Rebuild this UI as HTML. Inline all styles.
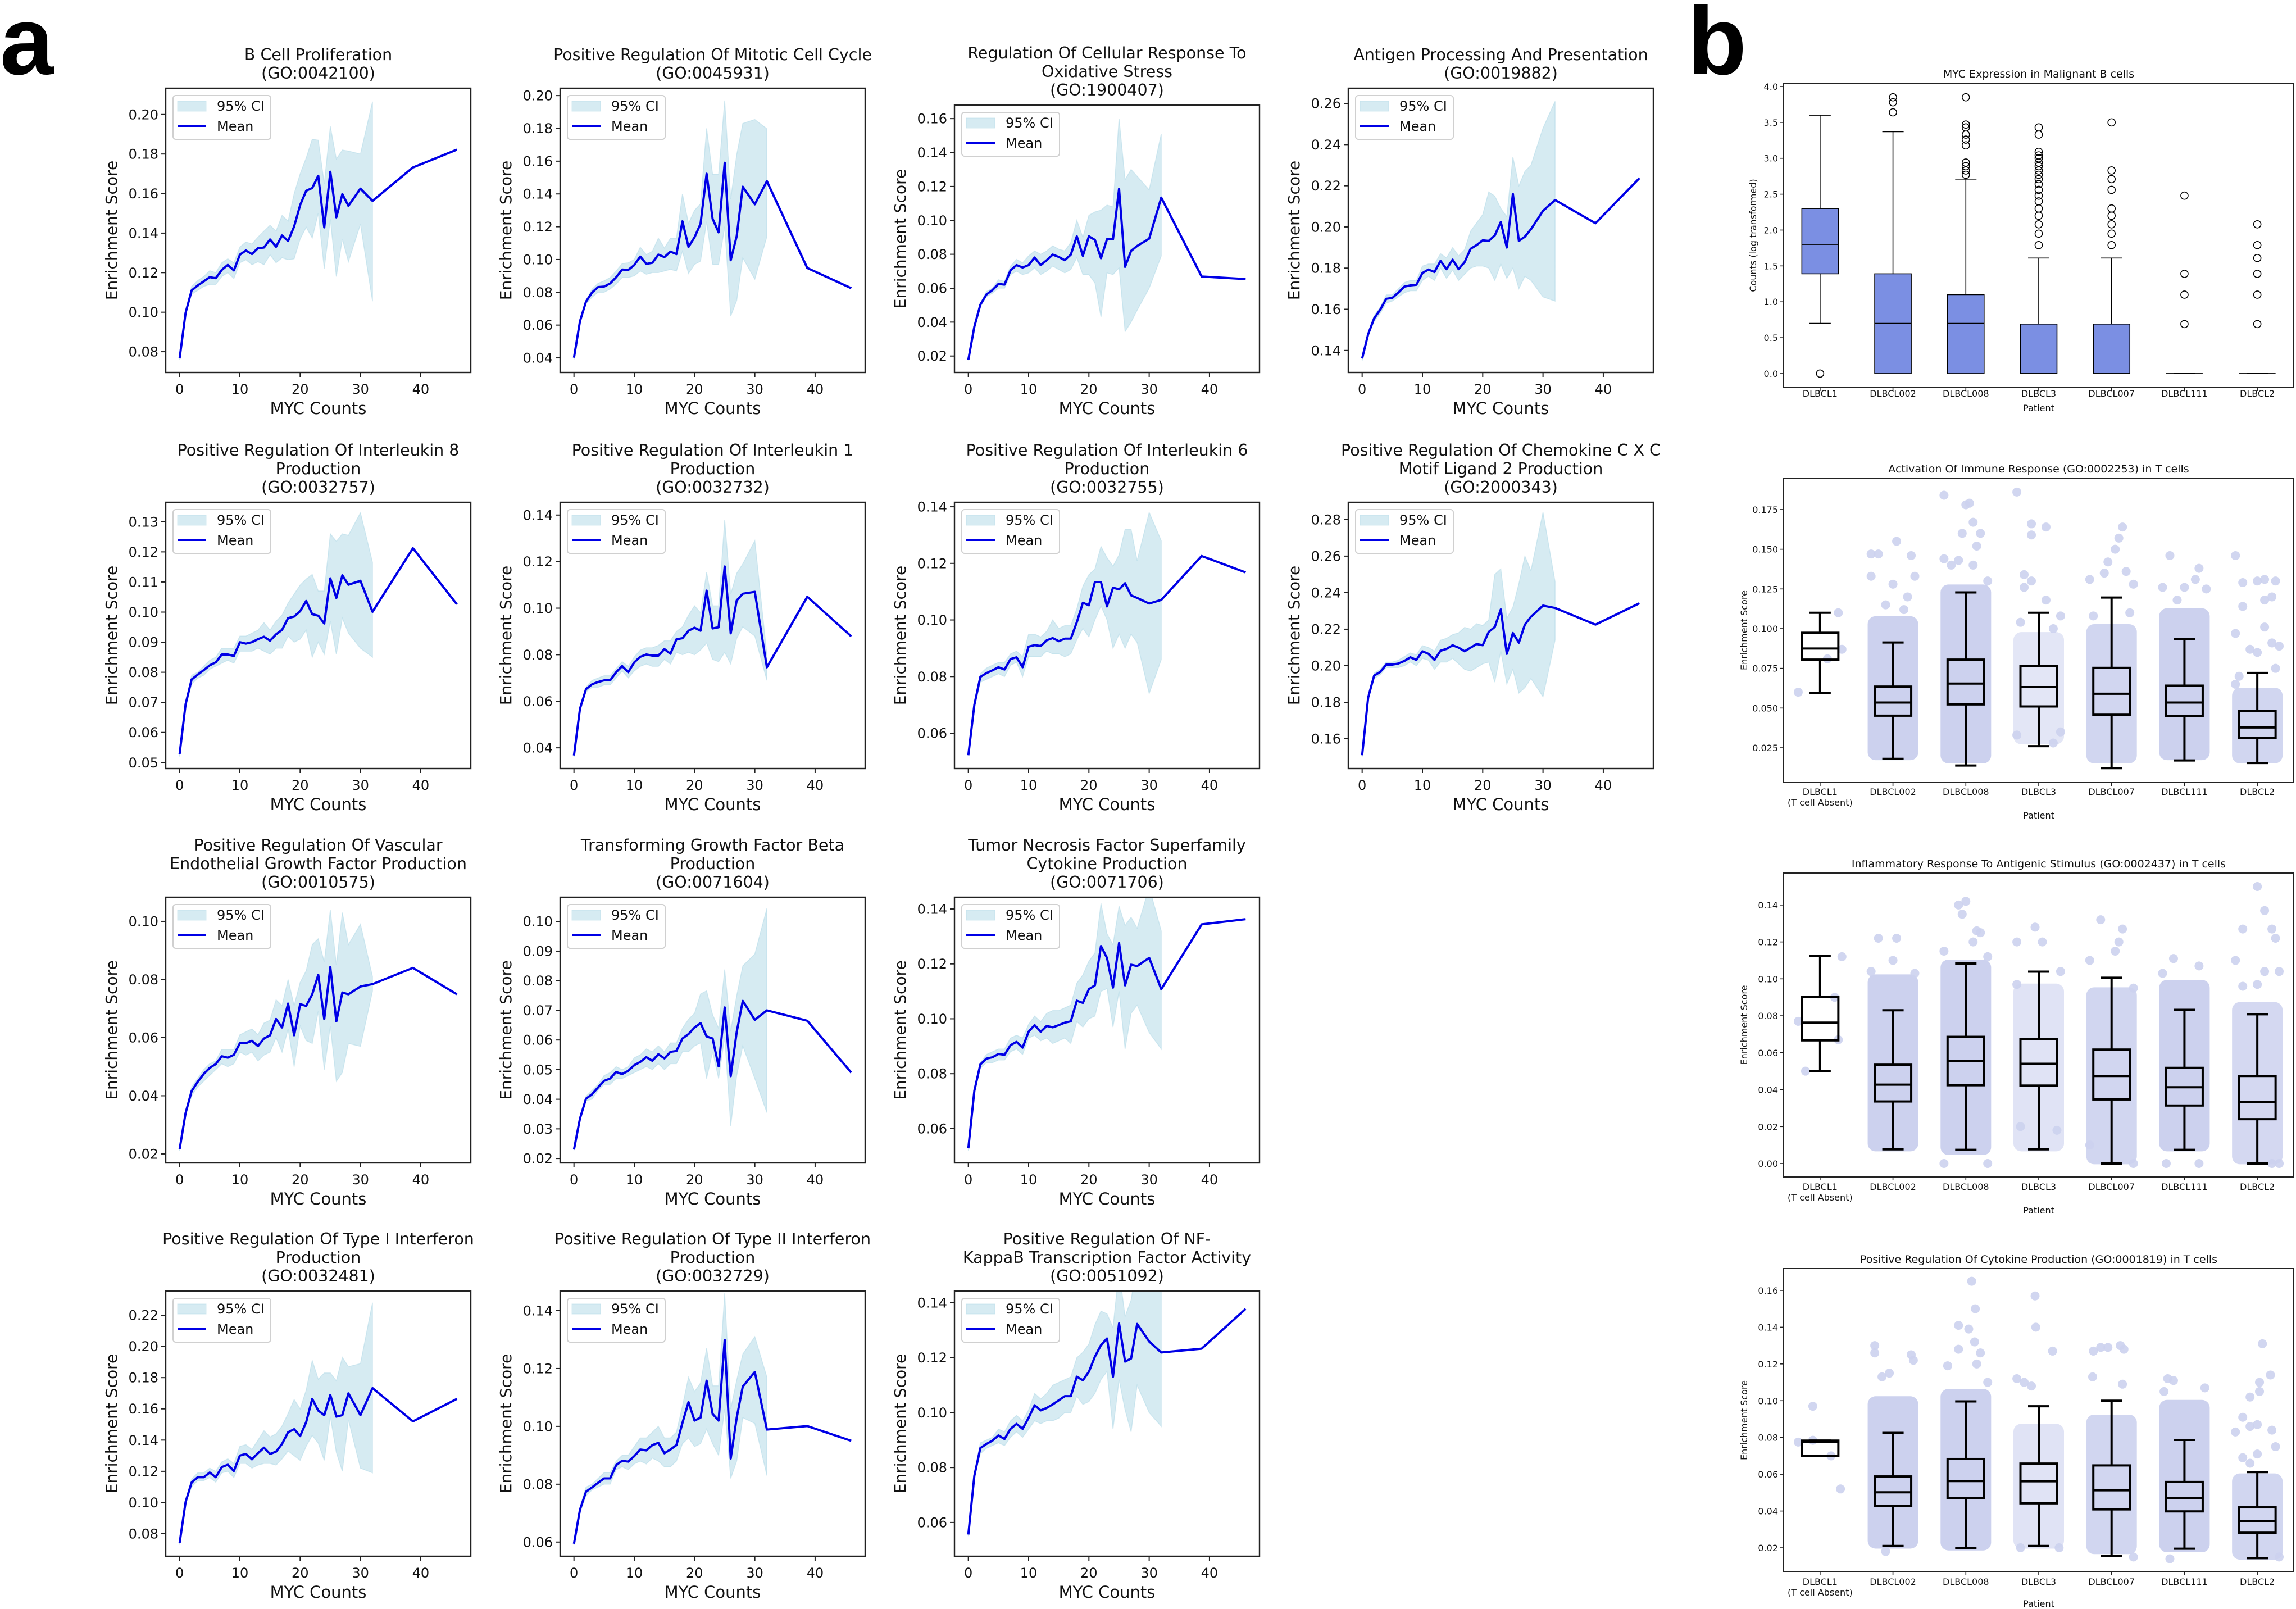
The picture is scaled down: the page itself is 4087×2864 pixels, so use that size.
<!DOCTYPE html>
<html><head><meta charset="utf-8"><title>MYC enrichment figure</title>
<style>
html,body{margin:0;padding:0;background:#fff;}
svg{display:block;font-family:"DejaVu Sans","Liberation Sans",sans-serif;}
</style></head>
<body>
<svg id="fig" xmlns="http://www.w3.org/2000/svg" width="4087" height="2864" viewBox="0 0 4087 2864">
<rect x="0" y="0" width="4087" height="2864" fill="#fff"/>
<text x="0" y="132" font-family="Liberation Sans, sans-serif" font-weight="bold" font-size="172">a</text>
<text x="3004" y="132" font-family="Liberation Sans, sans-serif" font-weight="bold" font-size="172">b</text>
</svg>
<script>
// ---------- line plot data ----------
const xCounts = [0,1,2,3,4,5,6,7,8,9,10,11,12,13,14,15,16,17,18,19,20,21,22,23,24,25,26,27,28,30,32,38.7,46];
const xTickVals = [0,10,20,30,40];

const meanP1=[.0766,.0997,.111,.1135,.1156,.1177,.1172,.1214,.1239,.1211,.1291,.1312,.1294,.1324,.1327,.1368,.1331,.1388,.1360,.1434,.1542,.1614,.1628,.169,.1429,.171,.148,.1597,.1538,.1625,.1563,.1732,.1822];
const hiP1=[.077,.1,.113,.116,.118,.121,.120,.125,.127,.125,.133,.1355,.1345,.138,.141,.144,.141,.149,.146,.160,.170,.178,.1875,.187,.165,.194,.1775,.182,.1815,.180,.2065];
const loP1=[.076,.099,.109,.111,.113,.114,.114,.118,.120,.117,.125,.1265,.124,.1255,.124,.129,.125,.1275,.1265,.127,.137,.143,.1375,.150,.122,.147,.118,.137,.1255,.1445,.1055];

const meanP2=[.0401,.0624,.0743,.0799,.0832,.0835,.0854,.0892,.0939,.0936,.0966,.1018,.0973,.098,.103,.1015,.1048,.1033,.1233,.1077,.1136,.1218,.1523,.1248,.1166,.1590,.0996,.1143,.1444,.1337,.1478,.0948,.0825];
const hiP2=[.041,.063,.075,.082,.0855,.087,.089,.093,.0975,.098,.100,.1075,.103,.105,.113,.107,.113,.113,.140,.122,.130,.134,.180,.152,.152,.197,.137,.164,.183,.1854,.1798];
const loP2=[.039,.061,.073,.077,.080,.080,.082,.085,.089,.089,.090,.093,.091,.092,.092,.093,.094,.093,.105,.0914,.097,.099,.123,.097,.097,.120,.0654,.075,.101,.088,.114];

const meanP3=[.0178,.0373,.0503,.0563,.0589,.0625,.0621,.0705,.0736,.0722,.0736,.0781,.0736,.0765,.0798,.0784,.0765,.0798,.0906,.0791,.0906,.0885,.0777,.0889,.0889,.1186,.0726,.0820,.0849,.0892,.1134,.0669,.0654];
const hiP3=[.018,.038,.051,.058,.060,.065,.064,.073,.077,.075,.079,.082,.080,.082,.085,.083,.082,.087,.100,.090,.103,.105,.106,.109,.108,.160,.124,.130,.126,.118,.151];
const loP3=[.0175,.036,.049,.055,.057,.060,.060,.068,.070,.068,.069,.072,.068,.070,.073,.071,.069,.071,.078,.068,.068,.063,.043,.069,.068,.072,.0344,.040,.047,.060,.079];

const meanP4=[.1361,.1479,.1556,.1598,.1651,.1655,.1681,.1710,.1716,.1719,.1776,.1793,.1781,.1835,.1795,.1841,.1795,.1829,.1894,.1912,.1935,.1932,.1959,.2024,.1900,.2160,.1932,.1953,.1989,.2078,.2131,.2018,.2237];
const hiP4=[.137,.149,.157,.161,.167,.167,.170,.173,.174,.174,.181,.182,.182,.187,.185,.190,.186,.189,.198,.202,.206,.217,.215,.209,.205,.234,.220,.227,.230,.248,.261];
const loP4=[.135,.147,.154,.158,.163,.164,.166,.168,.169,.169,.174,.176,.174,.180,.175,.179,.174,.177,.180,.181,.181,.180,.174,.182,.175,.180,.170,.176,.174,.166,.164];

const meanP5=[.0528,.0694,.0776,.0792,.0807,.0823,.0833,.0859,.0859,.0854,.0900,.0895,.0900,.0910,.0918,.0905,.0926,.0941,.0980,.0985,.1003,.1037,.0993,.0988,.0962,.1112,.1047,.1122,.1091,.1104,.1001,.1212,.1026];
const hiP5=[.053,.070,.079,.080,.082,.084,.085,.088,.088,.088,.092,.092,.093,.094,.0965,.094,.097,.099,.103,.106,.109,.111,.1125,.107,.107,.126,.1235,.126,.1255,.133,.1165];
const loP5=[.052,.068,.076,.078,.079,.081,.082,.083,.084,.083,.087,.087,.087,.088,.087,.086,.088,.088,.092,.090,.091,.094,.085,.090,.086,.097,.086,.098,.093,.088,.085];

const meanP6=[.0367,.0568,.0652,.0673,.0683,.0690,.0690,.0725,.0751,.0725,.0767,.0791,.0801,.0796,.0796,.0824,.0804,.0866,.0871,.0903,.0916,.0903,.1075,.0913,.0918,.1179,.0892,.1033,.1062,.1070,.0746,.1049,.0879];
const hiP6=[.037,.057,.066,.069,.070,.071,.071,.074,.077,.075,.079,.082,.083,.083,.084,.086,.086,.090,.092,.097,.101,.098,.1155,.101,.101,.138,.106,.115,.119,.129,.080];
const loP6=[.036,.056,.064,.066,.066,.067,.067,.070,.073,.070,.073,.075,.076,.075,.075,.078,.076,.081,.080,.081,.080,.082,.085,.078,.077,.081,.076,.087,.092,.088,.069];

const meanP7=[.0522,.0700,.0799,.0812,.0822,.0833,.0825,.0862,.0868,.0833,.0906,.0911,.0908,.0928,.0936,.0925,.0934,.0934,.0992,.1061,.1052,.1134,.1134,.1048,.1114,.1108,.1130,.1087,.1078,.1058,.1071,.1226,.1168];
const hiP7=[.053,.071,.081,.083,.084,.085,.085,.088,.089,.087,.095,.095,.094,.096,.100,.097,.098,.098,.104,.112,.116,.118,.126,.122,.119,.123,.132,.132,.121,.138,.128];
const loP7=[.052,.069,.078,.079,.080,.081,.080,.084,.085,.080,.087,.087,.087,.089,.088,.088,.087,.088,.093,.097,.094,.100,.105,.100,.090,.095,.090,.095,.092,.074,.086];

const meanP8=[.1510,.1826,.1946,.1966,.2006,.2006,.2012,.2026,.2046,.2032,.2079,.2065,.2032,.2082,.2092,.2112,.2099,.2079,.2099,.2119,.2112,.2185,.2212,.2308,.2065,.2179,.2126,.2225,.2268,.2329,.2316,.2225,.2342];
const hiP8=[.152,.184,.196,.198,.202,.202,.203,.205,.207,.206,.211,.210,.208,.214,.215,.217,.218,.221,.220,.223,.222,.225,.250,.253,.226,.232,.245,.260,.252,.284,.246];
const loP8=[.150,.181,.193,.195,.199,.199,.199,.200,.202,.200,.204,.203,.198,.202,.202,.204,.201,.198,.197,.199,.201,.202,.191,.208,.190,.198,.185,.188,.193,.183,.214];

const meanP9=[.0216,.0341,.0416,.0448,.0475,.0496,.0509,.0536,.0531,.0541,.0581,.0581,.0589,.0571,.0597,.0608,.0664,.0635,.0717,.0608,.0715,.0709,.0749,.0816,.0664,.0843,.0656,.0755,.0749,.0776,.0784,.0840,.0749];
const hiP9=[.022,.035,.043,.046,.049,.051,.052,.056,.056,.056,.061,.062,.063,.061,.065,.066,.073,.071,.080,.071,.079,.083,.092,.094,.086,.104,.085,.103,.092,.099,.081];
const loP9=[.021,.033,.040,.043,.045,.047,.049,.051,.050,.051,.055,.054,.055,.052,.054,.055,.060,.055,.063,.050,.064,.059,.058,.069,.049,.064,.045,.048,.058,.057,.076];

const meanP10=[.0230,.0335,.0402,.0417,.0440,.0462,.0470,.0492,.0485,.0496,.0515,.0526,.0542,.0530,.0552,.0538,.0560,.0563,.0605,.0620,.0642,.0657,.0612,.0605,.0511,.0710,.0478,.0627,.0732,.0668,.0700,.0665,.0490];
const hiP10=[.0232,.034,.041,.043,.045,.048,.049,.051,.050,.051,.054,.055,.057,.056,.058,.056,.059,.059,.064,.067,.069,.0755,.0766,.0685,.064,.0838,.063,.075,.085,.089,.1044];
const loP10=[.0228,.033,.0395,.040,.043,.045,.045,.047,.047,.048,.049,.050,.051,.050,.052,.050,.052,.052,.056,.056,.058,.059,.047,.056,.047,.061,.031,.048,.058,.047,.0355];

const meanP11=[.0528,.0738,.0834,.0855,.0860,.0872,.0869,.0904,.0916,.0895,.0953,.0977,.0953,.0974,.0969,.0977,.0986,.0991,.1066,.1058,.1108,.1122,.1265,.1222,.1114,.1276,.1122,.1197,.1192,.1222,.1108,.1344,.1363];
const hiP11=[.053,.074,.084,.087,.088,.089,.089,.093,.094,.093,.098,.101,.099,.102,.103,.103,.104,.105,.113,.116,.121,.124,.142,.131,.127,.141,.134,.137,.133,.148,.132];
const loP11=[.052,.073,.082,.084,.084,.085,.085,.088,.089,.087,.093,.094,.092,.093,.091,.092,.093,.091,.099,.097,.100,.101,.110,.111,.097,.110,.089,.102,.105,.095,.089];

const meanP12=[.0740,.1004,.1128,.1162,.1162,.1192,.1162,.1227,.1242,.1202,.1301,.1311,.1277,.1316,.1351,.1311,.1326,.1376,.1450,.1470,.1426,.1515,.1664,.1589,.1560,.1689,.1550,.1560,.1699,.1560,.1733,.1520,.1664];
const hiP12=[.075,.102,.115,.119,.119,.122,.120,.126,.128,.125,.136,.137,.134,.140,.146,.142,.144,.149,.157,.166,.160,.172,.191,.179,.183,.183,.178,.193,.187,.189,.228];
const loP12=[.073,.099,.110,.114,.114,.116,.113,.119,.120,.116,.125,.125,.122,.124,.125,.125,.124,.128,.133,.130,.127,.136,.143,.138,.127,.155,.132,.120,.153,.122,.119];

const meanP13=[.0594,.0712,.0774,.0789,.0805,.0820,.0820,.0866,.0881,.0878,.0897,.0920,.0917,.0935,.0943,.0907,.0920,.0935,.1012,.1084,.1020,.1030,.1158,.1043,.1020,.1299,.0889,.1030,.1138,.1188,.0989,.1001,.0950];
const hiP13=[.060,.072,.079,.080,.082,.084,.084,.088,.090,.090,.093,.096,.096,.098,.100,.096,.096,.098,.107,.117,.112,.115,.127,.114,.114,.146,.106,.116,.125,.131,.117];
const loP13=[.059,.070,.076,.078,.079,.080,.080,.085,.086,.085,.087,.088,.087,.089,.088,.086,.086,.088,.094,.096,.093,.094,.099,.094,.090,.106,.082,.088,.103,.101,.083];

const meanP14=[.0556,.0770,.0871,.0886,.0898,.0917,.0904,.0941,.0959,.0941,.0981,.1027,.1008,.1017,.1030,.1045,.1060,.1060,.1131,.1118,.1149,.1204,.1246,.1270,.1131,.1325,.1186,.1197,.1323,.1259,.1219,.1233,.1378];
const hiP14=[.056,.078,.089,.090,.091,.094,.093,.097,.099,.097,.101,.107,.105,.107,.110,.111,.112,.113,.120,.122,.125,.132,.137,.136,.131,.152,.135,.141,.155,.152,.149];
const loP14=[.055,.076,.085,.087,.088,.089,.088,.091,.093,.091,.094,.097,.096,.097,.097,.098,.100,.100,.106,.103,.104,.107,.112,.115,.094,.112,.101,.093,.110,.100,.095];

const ticksP1=[.08,.10,.12,.14,.16,.18,.20];
const ticksP2=[.04,.06,.08,.10,.12,.14,.16,.18,.20];
const ticksP3=[.02,.04,.06,.08,.10,.12,.14,.16];
const ticksP4=[.14,.16,.18,.20,.22,.24,.26];
const ticksP5=[.05,.06,.07,.08,.09,.10,.11,.12,.13];
const ticksP6=[.04,.06,.08,.10,.12,.14];
const ticksP7=[.06,.08,.10,.12,.14];
const ticksP8=[.16,.18,.20,.22,.24,.26,.28];
const ticksP9=[.02,.04,.06,.08,.10];
const ticksP10=[.02,.03,.04,.05,.06,.07,.08,.09,.10];
const ticksP11=[.06,.08,.10,.12,.14];
const ticksP12=[.08,.10,.12,.14,.16,.18,.20,.22];
const ticksP13=[.06,.08,.10,.12,.14];
const ticksP14=[.06,.08,.10,.12,.14];

const linePlots=[
 {id:'b-cell-proliferation',col:0,row:0,ymin:.0695,ymax:.2133,t:ticksP1,m:meanP1,hi:hiP1,lo:loP1,title:["B Cell Proliferation","(GO:0042100)"]},
 {id:'mitotic-cell-cycle',col:1,row:0,ymin:.0311,ymax:.2045,t:ticksP2,m:meanP2,hi:hiP2,lo:loP2,title:["Positive Regulation Of Mitotic Cell Cycle","(GO:0045931)"]},
 {id:'oxidative-stress',col:2,row:0,ymin:.0103,ymax:.168,t:ticksP3,m:meanP3,hi:hiP3,lo:loP3,title:["Regulation Of Cellular Response To","Oxidative Stress","(GO:1900407)"],top:187},
 {id:'antigen-processing',col:3,row:0,ymin:.1293,ymax:.2674,t:ticksP4,m:meanP4,hi:hiP4,lo:loP4,title:["Antigen Processing And Presentation","(GO:0019882)"]},
 {id:'interleukin-8',col:0,row:1,ymin:.048,ymax:.1365,t:ticksP5,m:meanP5,hi:hiP5,lo:loP5,title:["Positive Regulation Of Interleukin 8","Production","(GO:0032757)"]},
 {id:'interleukin-1',col:1,row:1,ymin:.0311,ymax:.1455,t:ticksP6,m:meanP6,hi:hiP6,lo:loP6,title:["Positive Regulation Of Interleukin 1","Production","(GO:0032732)"]},
 {id:'interleukin-6',col:2,row:1,ymin:.0475,ymax:.1416,t:ticksP7,m:meanP7,hi:hiP7,lo:loP7,title:["Positive Regulation Of Interleukin 6","Production","(GO:0032755)"]},
 {id:'cxcl2',col:3,row:1,ymin:.1437,ymax:.2895,t:ticksP8,m:meanP8,hi:hiP8,lo:loP8,title:["Positive Regulation Of Chemokine C X C","Motif Ligand 2 Production","(GO:2000343)"]},
 {id:'vegf',col:0,row:2,ymin:.0169,ymax:.1083,t:ticksP9,m:meanP9,hi:hiP9,lo:loP9,title:["Positive Regulation Of Vascular","Endothelial Growth Factor Production","(GO:0010575)"]},
 {id:'tgf-beta',col:1,row:2,ymin:.0185,ymax:.1082,t:ticksP10,m:meanP10,hi:hiP10,lo:loP10,title:["Transforming Growth Factor Beta","Production","(GO:0071604)"]},
 {id:'tnf-superfamily',col:2,row:2,ymin:.0475,ymax:.1443,t:ticksP11,m:meanP11,hi:hiP11,lo:loP11,title:["Tumor Necrosis Factor Superfamily","Cytokine Production","(GO:0071706)"]},
 {id:'type-i-interferon',col:0,row:3,ymin:.0656,ymax:.2355,t:ticksP12,m:meanP12,hi:hiP12,lo:loP12,title:["Positive Regulation Of Type I Interferon","Production","(GO:0032481)"]},
 {id:'type-ii-interferon',col:1,row:3,ymin:.0551,ymax:.1468,t:ticksP13,m:meanP13,hi:hiP13,lo:loP13,title:["Positive Regulation Of Type II Interferon","Production","(GO:0032729)"]},
 {id:'nf-kappab',col:2,row:3,ymin:.0477,ymax:.1443,t:ticksP14,m:meanP14,hi:hiP14,lo:loP14,title:["Positive Regulation Of NF-","KappaB Transcription Factor Activity","(GO:0051092)"]}
];

// ---------- box plot data ----------
const patients=["DLBCL1","DLBCL002","DLBCL008","DLBCL3","DLBCL007","DLBCL111","DLBCL2"];
const mycQ1=[1.39,0,0,0,0,0,0];
const mycMed=[1.8,0.7,0.7,0,0,0,0];
const mycQ3=[2.3,1.39,1.1,0.69,0.69,0,0];
const mycLo=[0.7,0,0,0,0,0,0];
const mycHi=[3.6,3.37,2.71,1.61,1.61,0,0];
const mycOutliers=[[0,0],[1,3.64],[1,3.78],[1,3.85],[2,2.77],[2,2.83],[2,2.89],[2,2.94],[2,3.18],[2,3.26],[2,3.33],[2,3.43],[2,3.47],[2,3.85],
 [3,1.79],[3,1.95],[3,2.08],[3,2.2],[3,2.3],[3,2.4],[3,2.48],[3,2.56],[3,2.64],[3,2.71],[3,2.77],[3,2.83],[3,2.89],[3,2.94],[3,3.0],[3,3.04],[3,3.09],[3,3.33],[3,3.43],
 [4,1.79],[4,1.95],[4,2.08],[4,2.2],[4,2.3],[4,2.56],[4,2.71],[4,2.83],[4,3.5],
 [5,0.69],[5,1.1],[5,1.39],[5,2.48],[6,0.69],[6,1.1],[6,1.39],[6,1.61],[6,1.79],[6,2.08]];
const mycTicks=[0,0.5,1,1.5,2,2.5,3,3.5,4];

const actLo=[.0596,.018,.0138,.026,.0122,.017,.0154];
const actQ1=[.0805,.0452,.0523,.051,.0458,.0449,.0311];
const actMed=[.0875,.0535,.0654,.0632,.059,.0535,.0378];
const actQ3=[.0974,.0635,.0805,.0766,.0753,.0641,.0481];
const actHi=[.110,.0913,.1228,.110,.1196,.0933,.0721];
const actCloudLo=[null,.02,.018,.03,.018,.02,.018];
const actCloudHi=[null,.105,.125,.095,.10,.11,.06];
const actCloudDensity=[0,1,1,.55,.9,1,.9];
const actPoints=[[0,.25,.11],[0,.3,.087],[0,-.3,.06],[0,.1,.081],
 [1,-.3,.147],[1,-.2,.147],[1,.05,.155],[1,.25,.146],[1,-.3,.133],[1,.3,.133],[1,0,.128],[1,.2,.12],[1,-.1,.115],[1,.15,.112],
 [2,-.3,.144],[2,-.1,.143],[2,-.3,.184],[2,0,.178],[2,.05,.179],[2,-.05,.16],[2,.1,.167],[2,.15,.152],[2,.2,.16],[2,.1,.14],[2,-.2,.14],[2,.3,.13],
 [3,-.3,.186],[3,-.1,.166],[3,.1,.164],[3,-.1,.159],[3,-.2,.134],[3,-.1,.13],[3,-.2,.126],[3,.1,.118],[3,.3,.108],[3,-.25,.104],[3,.2,.1],[3,-.3,.033],[3,.3,.035],[3,.2,.028],
 [4,.15,.164],[4,.1,.157],[4,.05,.15],[4,-.05,.142],[4,-.1,.135],[4,.2,.136],[4,-.3,.131],[4,.3,.128],[4,-.25,.108],[4,.25,.11],
 [5,-.2,.146],[5,.2,.138],[5,.15,.131],[5,-.3,.126],[5,0,.126],[5,.3,.125],[5,-.1,.118],
 [6,-.3,.146],[6,-.2,.129],[6,0,.13],[6,.1,.131],[6,.25,.13],[6,-.2,.114],[6,.1,.118],[6,.2,.12],[6,-.3,.097],[6,.1,.101],[6,.2,.091],[6,-.1,.087],[6,.3,.089],[6,0,.085],[6,.25,.075],[6,-.25,.07],[6,-.3,.065]];
const actTicks=[.025,.05,.075,.1,.125,.15,.175];

const infLo=[.0502,.0077,.0074,.0077,0,.0074,0];
const infQ1=[.0667,.0336,.0424,.0422,.0347,.0314,.024];
const infMed=[.0763,.0427,.0554,.054,.0474,.0413,.0333];
const infQ3=[.0901,.0535,.0686,.0675,.0617,.0518,.0474];
const infHi=[.1124,.083,.1083,.1039,.1006,.0832,.0808];
const infCloudLo=[null,.009,.007,.009,.002,.009,.002];
const infCloudHi=[null,.100,.108,.095,.093,.097,.085];
const infCloudDensity=[0,1,1,.6,.9,1,.85];
const infPoints=[[0,.3,.112],[0,-.2,.05],[0,.25,.067],[0,.2,.09],[0,-.3,.077],
 [1,-.2,.122],[1,.05,.122],[1,0,.11],[1,-.3,.104],[1,.3,.103],
 [2,-.1,.14],[2,0,.142],[2,-.05,.135],[2,.15,.126],[2,.2,.125],[2,.1,.12],[2,-.3,.115],[2,.3,.112],[2,-.3,0],[2,.3,0],
 [3,-.05,.128],[3,.05,.12],[3,-.3,.12],[3,-.3,.097],[3,.3,.104],[3,-.25,.02],[3,.25,.018],
 [4,-.15,.132],[4,.15,.127],[4,.1,.12],[4,-.3,.11],[4,.05,.115],[4,.3,.095],[4,.3,0],[4,-.3,.01],
 [5,-.15,.111],[5,.2,.107],[5,-.3,.103],[5,-.25,0],[5,.2,0],
 [6,0,.15],[6,-.2,.127],[6,.1,.137],[6,.2,.127],[6,.25,.122],[6,-.3,.11],[6,.1,.104],[6,.3,.104],[6,0,.097],[6,-.2,.096],[6,.3,0],[6,.2,0]];
const infTicks=[0,.02,.04,.06,.08,.10,.12,.14];

const cytLo=[.0701,.021,.0199,.021,.0156,.0195,.0144];
const cytQ1=[.0701,.0428,.0471,.0442,.0409,.0398,.0282];
const cytMed=[.0775,.0502,.0563,.0562,.0513,.047,.0346];
const cytQ3=[.0783,.0588,.0683,.0658,.0648,.0558,.042];
const cytHi=[.0783,.0825,.0996,.097,.100,.0787,.0612];
const cytCloudLo=[null,.022,.021,.022,.019,.02,.016];
const cytCloudHi=[null,.100,.104,.085,.090,.098,.058];
const cytCloudDensity=[0,1,1,.6,.9,1,.9];
const cytPoints=[[0,-.3,.0775],[0,-.1,.097],[0,.15,.07],[0,.28,.052],[0,-.1,.0785],
 [1,-.25,.13],[1,-.25,.126],[1,.25,.125],[1,.28,.122],[1,-.05,.115],[1,-.15,.113],[1,-.1,.018],
 [2,.08,.165],[2,.13,.15],[2,-.1,.141],[2,.04,.139],[2,.12,.132],[2,-.1,.128],[2,.2,.126],[2,-.25,.119],[2,.15,.12],[2,.3,.11],
 [3,-.05,.157],[3,-.04,.14],[3,.19,.127],[3,-.3,.112],[3,-.2,.11],[3,-.1,.108],[3,-.25,.02],[3,.28,.02],
 [4,-.25,.127],[4,-.15,.129],[4,-.05,.129],[4,.12,.13],[4,.17,.128],[4,-.26,.113],[4,.15,.109],[4,.3,.015],
 [5,-.23,.112],[5,-.15,.111],[5,-.28,.105],[5,.28,.107],[5,-.2,.014],
 [6,.07,.131],[6,.18,.114],[6,.03,.11],[6,.03,.105],[6,-.1,.102],[6,-.2,.091],[6,-.1,.086],[6,0,.087],[6,.2,.084],[6,-.3,.083],[6,.25,.075],[6,0,.071],[6,-.2,.069],[6,-.1,.066],[6,.3,.015]];
const cytTicks=[.02,.04,.06,.08,.10,.12,.14,.16];

// ---------- drawing ----------
const NS='http://www.w3.org/2000/svg';
const svg=document.getElementById('fig');
function mk(tag,attrs,parent){const e=document.createElementNS(NS,tag);for(const k in attrs)e.setAttribute(k,attrs[k]);(parent||svg).appendChild(e);return e;}
function txt(str,attrs,parent){const e=mk('text',attrs,parent);e.textContent=str;return e;}

const colLeft=[295,997,1699,2400];
const rowTop=[157,894,1597,2298];
const rowBottom=[663,1368,2070,2770];
const AXW=543, XMIN=-2.3, XMAX=48.3;

linePlots.forEach(function(p){
  const L=colLeft[p.col], T=(p.top!==undefined?p.top:rowTop[p.row]), B=rowBottom[p.row], H=B-T, W=AXW;
  const sx=v=>L+(v-XMIN)/(XMAX-XMIN)*W;
  const sy=v=>T+(p.ymax-v)/(p.ymax-p.ymin)*H;
  const g=mk('g',{});
  
  
  const clip=mk('clipPath',{id:'clip-'+p.id},g);
  mk('rect',{x:L,y:T,width:W,height:H},clip);
  const n=Math.min(p.hi.length,p.lo.length);
  let pts=[];
  for(let i=0;i<n;i++)pts.push(sx(xCounts[i]).toFixed(1)+','+sy(p.hi[i]).toFixed(1));
  for(let i=n-1;i>=0;i--)pts.push(sx(xCounts[i]).toFixed(1)+','+sy(p.lo[i]).toFixed(1));
  const band=mk('polygon',{points:pts.join(' '),fill:'#add8e6','fill-opacity':'0.5',stroke:'#add8e6','stroke-opacity':'0.5','stroke-width':'1.5','clip-path':'url(#clip-'+p.id+')'},g);
  
  
  let mp=[];
  for(let i=0;i<p.m.length;i++)mp.push(sx(xCounts[i]).toFixed(1)+','+sy(p.m[i]).toFixed(1));
  const line=mk('polyline',{points:mp.join(' '),fill:'none',stroke:'#0000e6','stroke-width':'4','stroke-linejoin':'round','clip-path':'url(#clip-'+p.id+')'},g);
  
  
  const fr=mk('rect',{x:L,y:T,width:W,height:H,fill:'none',stroke:'#222','stroke-width':'2.4'},g);
  
  
  p.t.forEach(function(v){
    const y=sy(v);
    mk('line',{x1:L-8,x2:L,y1:y,y2:y,stroke:'#222','stroke-width':'2'},g);
    const tl=txt(v.toFixed(2),{x:L-13,y:y+8.5,'font-size':'24','text-anchor':'end',fill:'#111'},g);
    
    
  });
  xTickVals.forEach(function(v){
    const x=sx(v);
    mk('line',{x1:x,x2:x,y1:B,y2:B+8,stroke:'#222','stroke-width':'2'},g);
    const tl=txt(String(v),{x:x,y:B+38,'font-size':'24','text-anchor':'middle',fill:'#111'},g);
    
    
  });
  const xl=txt('MYC Counts',{x:L+W/2,y:B+74,'font-size':'29','text-anchor':'middle',fill:'#111'},g);
  
  
  const cy=(T+B)/2;
  const yl=txt('Enrichment Score',{x:L-97,y:cy,'font-size':'28','text-anchor':'middle',fill:'#111',transform:'rotate(-90 '+(L-97)+' '+cy+')',dy:'10'},g);
  
  
  const nl=p.title.length;
  p.title.forEach(function(s,i){
    const tt=txt(s,{x:L+W/2,y:T-17-(nl-1-i)*33,'font-size':'28.5','text-anchor':'middle',fill:'#111'},g);
    
    
  });
  const lg=mk('g',{},g);
  
  
  mk('rect',{x:L+13,y:T+13,width:174,height:78,rx:5,fill:'#fff','fill-opacity':'0.8',stroke:'#d0d0d0','stroke-width':'2'},lg);
  const lp=mk('rect',{x:L+21,y:T+23,width:51,height:18,fill:'#add8e6','fill-opacity':'0.5',stroke:'#add8e6','stroke-opacity':'0.5'},lg);
  
  
  const lt1=txt('95% CI',{x:L+91,y:T+40,'font-size':'24',fill:'#111'},lg);
  
  
  const ll=mk('line',{x1:L+21,x2:L+72,y1:T+67,y2:T+67,stroke:'#0000e6','stroke-width':'4'},lg);
  
  
  const lt2=txt('Mean',{x:L+91,y:T+76,'font-size':'24',fill:'#111'},lg);
  
  
});

const BL=3175, BR=4083, BW=BR-BL;
const boxPanels=[
 {id:'myc-expression',T:148,B:690,ymin:-0.196,ymax:4.047,ticks:mycTicks,dec:1,lo:mycLo,q1:mycQ1,med:mycMed,q3:mycQ3,hi:mycHi,
  title:'MYC Expression in Malignant B cells',ylab:'Counts (log transformed)',style:'filled',out:mycOutliers,tickY:706,patY:732,absent:false},
 {id:'activation-immune-response',T:851,B:1393,ymin:.00307,ymax:.1948,ticks:actTicks,dec:3,lo:actLo,q1:actQ1,med:actMed,q3:actQ3,hi:actHi,
  cLo:actCloudLo,cHi:actCloudHi,cD:actCloudDensity,pts:actPoints,
  title:'Activation Of Immune Response (GO:0002253) in T cells',ylab:'Enrichment Score',style:'open',tickY:1415,patY:1457,absent:true},
 {id:'inflammatory-response',T:1554,B:2095,ymin:-.0073,ymax:.1573,ticks:infTicks,dec:2,lo:infLo,q1:infQ1,med:infMed,q3:infQ3,hi:infHi,
  cLo:infCloudLo,cHi:infCloudHi,cD:infCloudDensity,pts:infPoints,
  title:'Inflammatory Response To Antigenic Stimulus (GO:0002437) in T cells',ylab:'Enrichment Score',style:'open',tickY:2118,patY:2160,absent:true},
 {id:'cytokine-production',T:2258,B:2798,ymin:.00686,ymax:.1719,ticks:cytTicks,dec:2,lo:cytLo,q1:cytQ1,med:cytMed,q3:cytQ3,hi:cytHi,
  cLo:cytCloudLo,cHi:cytCloudHi,cD:cytCloudDensity,pts:cytPoints,
  title:'Positive Regulation Of Cytokine Production (GO:0001819) in T cells',ylab:'Enrichment Score',style:'open',tickY:2821,patY:2860,absent:true}
];

boxPanels.forEach(function(p){
  const T=p.T,B=p.B,H=B-T;
  const sx=c=>BL+(c+0.5)/7*BW;
  const sy=v=>T+(p.ymax-v)/(p.ymax-p.ymin)*H;
  const g=mk('g',{});
  
  
  const half=32.5, cap=19;
  if(p.style==='open'){
    p.cLo.forEach(function(lo,i){
      if(lo===null)return;
      const cx=sx(i),y1=sy(p.cHi[i]),y2=sy(lo);
      const cr=mk('rect',{x:cx-45,y:y1-8,width:90,height:(y2-y1)+16,rx:14,fill:'#ccd1ee','fill-opacity':String(p.cD[i])},g);
      
      
    });
    p.pts.forEach(function(q){
      const d=mk('circle',{cx:sx(q[0]+q[1]),cy:sy(q[2]),r:8,fill:'#ccd1ee','fill-opacity':'0.9'},g);
      
      
    });
  }
  const sw=(p.style==='filled')?1.6:4;
  patients.forEach(function(name,i){
    const cx=sx(i);
    const bg=mk('g',{},g);
    
    
    mk('line',{x1:cx,x2:cx,y1:sy(p.hi[i]),y2:sy(p.q3[i]),stroke:'#000','stroke-width':sw},bg);
    mk('line',{x1:cx,x2:cx,y1:sy(p.q1[i]),y2:sy(p.lo[i]),stroke:'#000','stroke-width':sw},bg);
    mk('line',{x1:cx-cap,x2:cx+cap,y1:sy(p.hi[i]),y2:sy(p.hi[i]),stroke:'#000','stroke-width':sw},bg);
    mk('line',{x1:cx-cap,x2:cx+cap,y1:sy(p.lo[i]),y2:sy(p.lo[i]),stroke:'#000','stroke-width':sw},bg);
    const y3=sy(p.q3[i]),y1=sy(p.q1[i]);
    mk('rect',{x:cx-half,y:y3,width:2*half,height:Math.max(0,y1-y3),fill:(p.style==='filled')?'#7b8fe3':'none',stroke:'#000','stroke-width':sw},bg);
    mk('line',{x1:cx-half,x2:cx+half,y1:sy(p.med[i]),y2:sy(p.med[i]),stroke:'#000','stroke-width':sw},bg);
  });
  if(p.out){
    p.out.forEach(function(o){
      const c=mk('circle',{cx:sx(o[0]),cy:sy(o[1]),r:6.5,fill:'none',stroke:'#000','stroke-width':'1.6'},g);
      
      
    });
  }
  const fr=mk('rect',{x:BL,y:T,width:BW,height:H,fill:'none',stroke:'#222','stroke-width':'2'},g);
  
  
  p.ticks.forEach(function(v){
    const y=sy(v);
    mk('line',{x1:BL-6,x2:BL,y1:y,y2:y,stroke:'#222','stroke-width':'1.6'},g);
    const tl=txt(v.toFixed(p.dec),{x:BL-10,y:y+6,'font-size':'16','text-anchor':'end',fill:'#111'},g);
    
    
  });
  patients.forEach(function(name,i){
    const x=sx(i);
    mk('line',{x1:x,x2:x,y1:B,y2:B+6,stroke:'#222','stroke-width':'1.6'},g);
    const tl=txt(name,{x:x,y:p.tickY,'font-size':'16','text-anchor':'middle',fill:'#111'},g);
    
    
    if(i===0&&p.absent){
      const t2=txt('(T cell Absent)',{x:x,y:p.tickY+19,'font-size':'16','text-anchor':'middle',fill:'#111'},g);
      
      
    }
  });
  const pl=txt('Patient',{x:BL+BW/2,y:p.patY,'font-size':'16','text-anchor':'middle',fill:'#111'},g);
  
  
  const cy=(T+B)/2, lx=(p.style==='filled')?3126:3110;
  const yl=txt(p.ylab,{x:lx,y:cy,'font-size':'16','text-anchor':'middle',fill:'#111',transform:'rotate(-90 '+lx+' '+cy+')'},g);
  
  
  const tt=txt(p.title,{x:BL+BW/2,y:T-10,'font-size':'19','text-anchor':'middle',fill:'#111'},g);
  
  
});
</script>
</body></html>
